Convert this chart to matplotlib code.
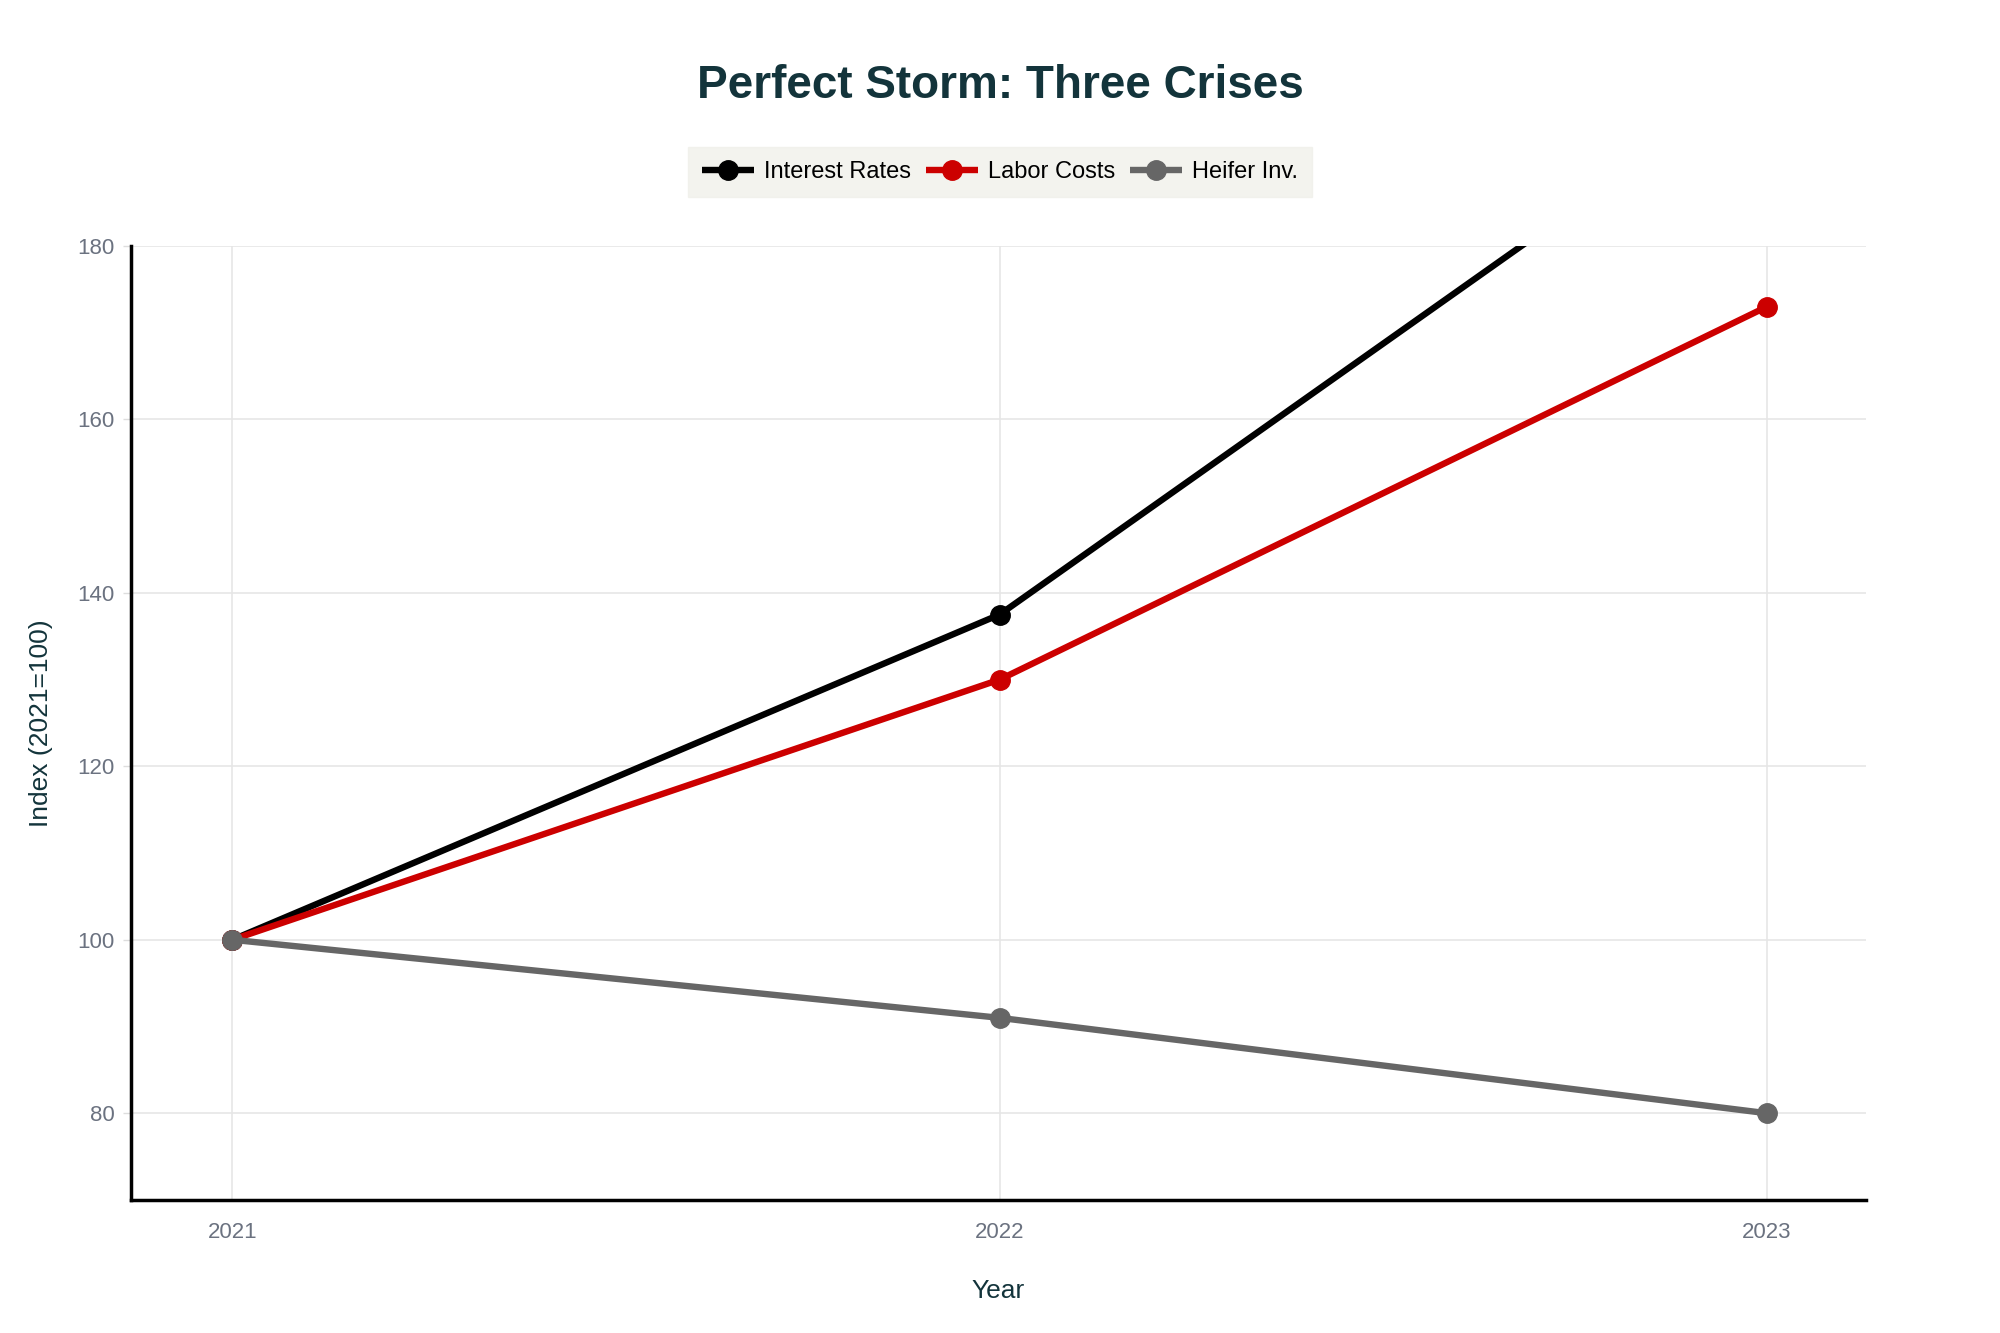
import matplotlib
matplotlib.use("Agg")
import matplotlib.pyplot as plt

plt.rcParams['font.family'] = ['Liberation Sans', 'DejaVu Sans']

years = [2021, 2022, 2023]
interest_rates = [100, 137.5, 200]
labor_costs = [100, 130, 173]
heifer_inv = [100, 91, 80]

series = [
    ("Interest Rates", interest_rates, "#000000"),
    ("Labor Costs", labor_costs, "#CC0000"),
    ("Heifer Inv.", heifer_inv, "#666666"),
]

fig = plt.figure(figsize=(20, 13.33), dpi=100)
ax = fig.add_axes([0.0655, 0.0998, 0.8675, 0.7157])

for name, vals, col in series:
    ax.plot(years, vals, color=col, lw=4.6, marker='o', markersize=14,
            label=name, solid_capstyle='butt')

ax.set_xlim(2020.868, 2023.129)
ax.set_ylim(70, 180)
ax.set_xticks(years)
ax.set_xticklabels([str(y) for y in years])
ax.set_yticks([80, 100, 120, 140, 160, 180])

ax.grid(True, color="#E6E6E6", lw=1.2)
ax.set_axisbelow(True)
for s in ["top", "right"]:
    ax.spines[s].set_visible(False)
for s in ["left", "bottom"]:
    ax.spines[s].set_linewidth(2.5)
    ax.spines[s].set_color("black")

ax.tick_params(axis='y', labelsize=16, length=6, width=1, pad=6, color="#DDDDDD")
ax.tick_params(axis='x', labelsize=16, length=0, pad=16)
ax.tick_params(axis='both', labelcolor="#6B7280")

ax.set_xlabel("Year", fontsize=19, color="#13343B", labelpad=26)
ax.set_ylabel("Index (2021=100)", fontsize=19, color="#13343B", labelpad=17)

fig.suptitle("Perfect Storm: Three Crises", fontsize=33, fontweight='bold',
             color="#13343B", y=0.952)

leg = fig.legend(loc='center', bbox_to_anchor=(0.5, 0.871), ncol=3,
                 frameon=True, fontsize=17, handlelength=2.2,
                 columnspacing=0.6, handletextpad=0.45, borderpad=0.6)
frame = leg.get_frame()
frame.set_facecolor("#F0F0EA")
frame.set_edgecolor("#F0F0EA")
frame.set_boxstyle("square", pad=0)

fig.savefig("out.png", dpi=100)
